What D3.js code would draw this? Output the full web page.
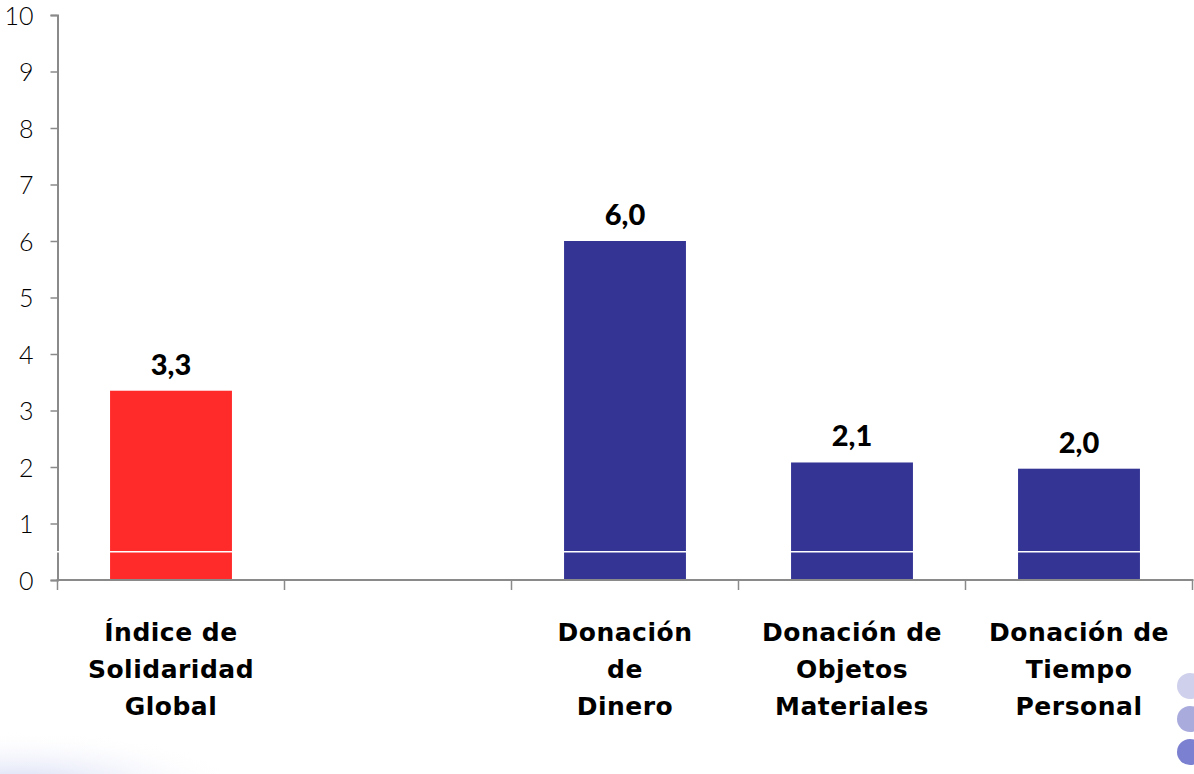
<!DOCTYPE html>
<html><head><meta charset="utf-8">
<script src="https://cdn.jsdelivr.net/npm/d3@7"></script>
<style>
html,body{margin:0;padding:0;background:#fff;}
svg{display:block;font-family:Lato,"Open Sans",sans-serif;}
</style></head>
<body><div id="chart"></div>
<script>
const categories = ["Índice de Solidaridad Global", "", "Donación de Dinero", "Donación de Objetos Materiales", "Donación de Tiempo Personal"];
const labelLines = [["Índice de","Solidaridad","Global"], [], ["Donación","de","Dinero"], ["Donación de","Objetos","Materiales"], ["Donación de","Tiempo","Personal"]];
const values = [3.35, null, 6.0, 2.08, 1.97];
const valueLabels = ["3,3", "", "6,0", "2,1", "2,0"];
const colors = ["#ff2a2a", null, "#343495", "#343495", "#343495"];
const yTicks = [0,1,2,3,4,5,6,7,8,9,10];

const W = 1194, H = 774;
const svg = d3.select("#chart").append("svg").attr("width", W).attr("height", H);

const defs = svg.append("defs");
const g1 = defs.append("radialGradient").attr("id","sw").attr("cx","0.5").attr("cy","0.5").attr("r","0.5");
g1.append("stop").attr("offset","0").attr("stop-color","#c8cef0").attr("stop-opacity",0.9);
g1.append("stop").attr("offset","1").attr("stop-color","#ffffff").attr("stop-opacity",0);
svg.append("ellipse").attr("cx",20).attr("cy",790).attr("rx",230).attr("ry",60).attr("fill","url(#sw)");

const x0 = 57.5, x1 = 1192.5, yTop = 15, yBot = 580;
const x = d3.scaleBand().domain(d3.range(categories.length)).range([x0, x1]).padding(0);
const y = d3.scaleLinear().domain([0, 10]).range([yBot, yTop]);
const bw = x.bandwidth();
const barW = bw * 0.537;

// bars
const bars = svg.append("g");
values.forEach((v, i) => {
  if (v == null) return;
  const cx = x(i) + bw / 2;
  bars.append("rect").attr("x", cx - barW/2).attr("y", y(v)).attr("width", barW).attr("height", y(0) - y(v)).attr("fill", colors[i]);
  bars.append("text").attr("x", cx).attr("y", y(v) - 16).attr("text-anchor","middle")
    .attr("font-size", 29).attr("font-weight", 900).attr("fill","#000").text(valueLabels[i]);
});

// y axis
const yAxis = d3.axisLeft(y).tickValues(yTicks).tickSize(7).tickPadding(17).tickFormat(d3.format("d"));
const ya = svg.append("g").attr("transform", `translate(${x0},0)`).call(yAxis);
ya.select(".domain").attr("stroke","#8a8a8a").attr("stroke-width",2);
ya.selectAll(".tick line").attr("stroke","#8a8a8a").attr("stroke-width",1.5);
ya.selectAll(".tick text").attr("font-size",25).attr("fill","#000").attr("font-weight",300).attr("font-family","Lato, sans-serif").attr("dy","0.36em");

// x axis
const xEdges = d3.range(categories.length + 1).map(i => i < categories.length ? x(i) : x1);
const xa = svg.append("g");
xa.append("line").attr("x1", x0 - 1).attr("x2", x1 + 1).attr("y1", yBot).attr("y2", yBot).attr("stroke","#8a8a8a").attr("stroke-width",2);
xa.selectAll(".tk").data(xEdges).join("line").attr("class","tk")
  .attr("x1", d => d).attr("x2", d => d).attr("y1", yBot).attr("y2", yBot + 10)
  .attr("stroke","#8a8a8a").attr("stroke-width",1.5);

// white line at 0.5
svg.append("line").attr("x1", x0 - 3).attr("x2", x1).attr("y1", y(0.5)).attr("y2", y(0.5)).attr("stroke","#fff").attr("stroke-width",1.5);

// category labels
labelLines.forEach((lines, i) => {
  const cx = x(i) + bw / 2;
  lines.forEach((t, j) => {
    svg.append("text").attr("x", cx).attr("y", 641 + j * 37).attr("text-anchor","middle")
      .attr("font-family","'DejaVu Sans', sans-serif").attr("letter-spacing", 0.5)
      .attr("font-size", 25).attr("font-weight", 700).attr("fill","#000").text(t);
  });
});

// decorative dots
const dots = [["#cfd0ec",686],["#a9abdd",719],["#7c80d0",752]];
dots.forEach(d => svg.append("circle").attr("cx",1190).attr("cy",d[1]).attr("r",13).attr("fill",d[0]));
</script>
</body></html>
